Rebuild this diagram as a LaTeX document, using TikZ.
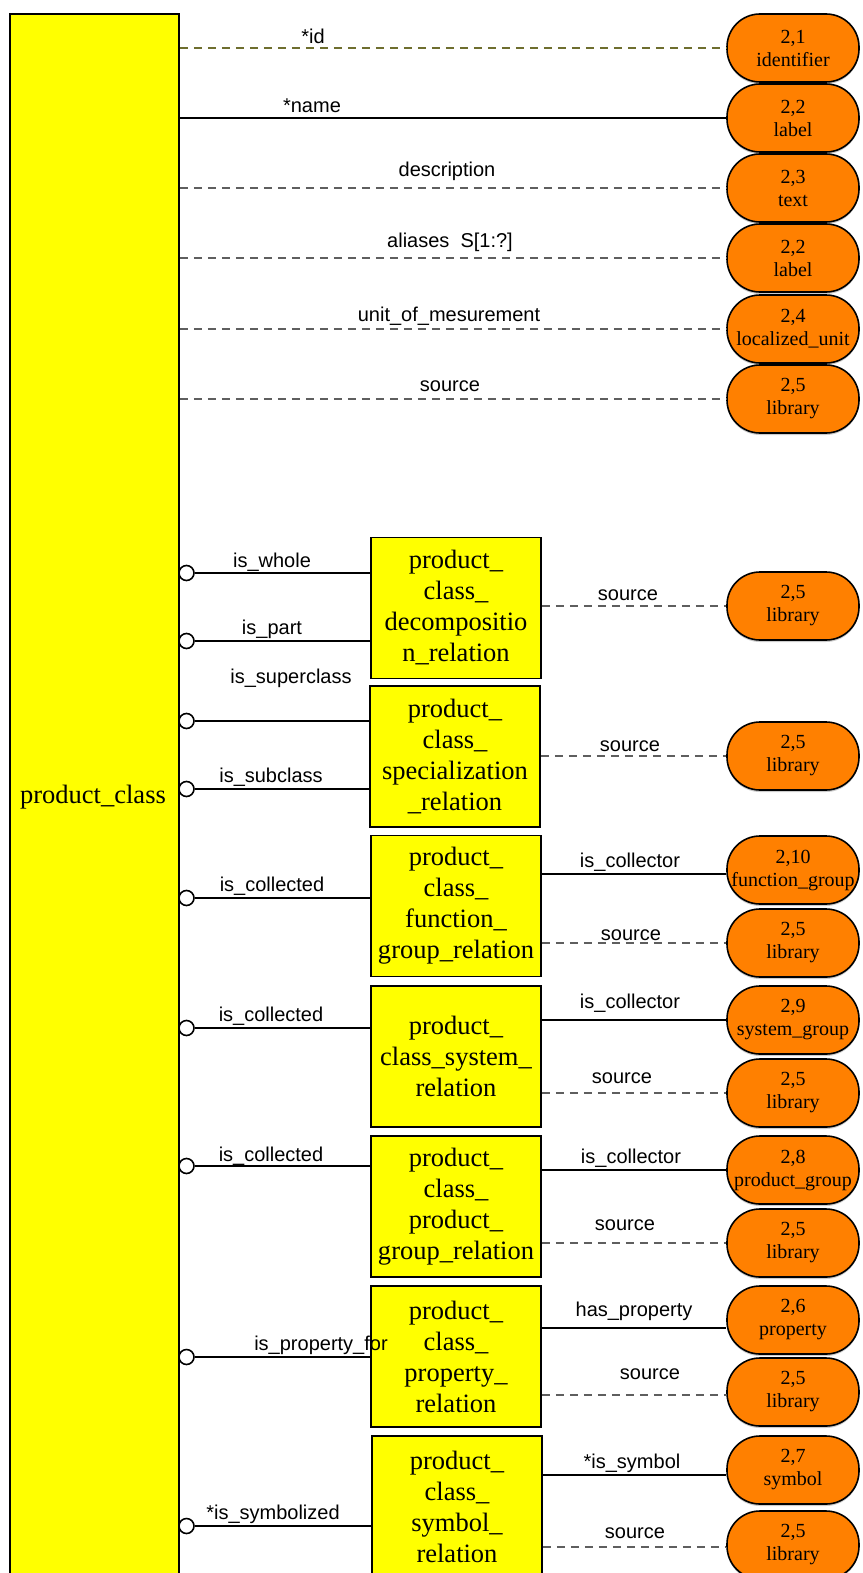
\documentclass[tikz,border=0pt]{standalone}
\usepackage{fontspec}
\setmainfont{Liberation Serif}
\newfontfamily\arialfont{Liberation Sans}
\usetikzlibrary{shadows}

\definecolor{entyellow}{HTML}{FFFF00}
\definecolor{pillorange}{HTML}{FF8000}
\definecolor{dashgray}{HTML}{5E5E5E}
\definecolor{dasholive}{HTML}{6E6E2E}

\tikzset{
  entbox/.style={draw=black, line width=1.7pt, fill=entyellow, minimum width=170pt,
    minimum height=141pt, align=center, inner sep=0pt,
    font=\fontsize{26.5}{31}\selectfont},
  pill/.style={draw=black, line width=1.6pt, fill=pillorange, rounded corners=33pt,
    minimum width=132pt, minimum height=68pt, align=center, inner sep=0pt,
    font=\fontsize{20}{23}\selectfont,
    drop shadow={shadow xshift=0pt, shadow yshift=-2pt, fill=black!40, opacity=0.5}},
  lbl/.style={inner sep=0pt, font=\arialfont\fontsize{20}{22}\selectfont},
  circ/.style={circle, draw=black, line width=1.6pt, fill=white, minimum size=15pt, inner sep=0pt},
  sline/.style={draw=black, line width=1.8pt},
  dline/.style={draw=dashgray, line width=1.4pt, dash pattern=on 8pt off 6pt},
  oline/.style={draw=dasholive, line width=1.4pt, dash pattern=on 8pt off 6pt},
}

\begin{document}
\begin{tikzpicture}[x=1pt, y=-1pt]
\useasboundingbox (0,0) rectangle (862,1573);
\clip (0,0) rectangle (862,1573);

% main entity, running off the lower edge
\node[draw=black, line width=1.8pt, fill=entyellow, minimum width=169pt,
  minimum height=1600pt, anchor=north west, inner sep=0pt] (pc) at (9,13) {};
\node[font=\fontsize{26.5}{31}\selectfont, inner sep=0pt] (pclabel) at (93,797) {product\_class};

% attribute types
\node[pill] (a1) at (793,48)  {2,1\\identifier};
\node[pill] (a2) at (793,118) {2,2\\label};
\node[pill] (a3) at (793,188) {2,3\\text};
\node[pill] (a4) at (793,258) {2,2\\label};
\node[pill] (a5) at (793,329) {2,4\\localized\_unit};
\node[pill] (a6) at (793,399) {2,5\\library};

% attributes
\draw[oline] (pc.east |- a1.west) -- (a1.west);
\draw[sline] (pc.east |- a2.west) -- (a2.west);
\draw[dline] (pc.east |- a3.west) -- (a3.west);
\draw[dline] (pc.east |- a4.west) -- (a4.west);
\draw[dline] (pc.east |- a5.west) -- (a5.west);
\draw[dline] (pc.east |- a6.west) -- (a6.west);
\node[lbl] (la1) at (313,36)  {*id};
\node[lbl] (la2) at (312,106) {*name};
\node[lbl] (la3) at (447,171) {description};
\node[lbl] (la4) at (450,242) {aliases\ \ S[1:?]};
\node[lbl] (la5) at (449,316) {unit\_of\_mesurement};
\node[lbl] (la6) at (450,386) {source};

% relation entities
\node[entbox] (r1) at (456,608)    {product\_\\class\_\\decompositio\\n\_relation};
\node[entbox] (r2) at (455,756.5)  {product\_\\class\_\\specialization\\\_relation};
\node[entbox] (r3) at (456,906)    {product\_\\class\_\\function\_\\group\_relation};
\node[entbox] (r4) at (456,1056.5) {product\_\\class\_system\_\\relation};
\node[entbox] (r5) at (456,1206.5) {product\_\\class\_\\product\_\\group\_relation};
\node[entbox] (r6) at (456,1356.5) {product\_\\class\_\\property\_\\relation};
\node[entbox] (r7) at (457,1506.5) {product\_\\class\_\\symbol\_\\relation};

% optional ends on product_class
\node[circ] (c1) at (186.5,573)  {};
\node[circ] (c2) at (186.5,641)  {};
\node[circ] (c3) at (186.5,721)  {};
\node[circ] (c4) at (186.5,789)  {};
\node[circ] (c5) at (186.5,898)  {};
\node[circ] (c6) at (186.5,1028) {};
\node[circ] (c7) at (186.5,1166) {};
\node[circ] (c8) at (186.5,1357) {};
\node[circ] (c9) at (186.5,1526) {};

\draw[sline] (c1.east) -- (r1.west |- c1.east);
\draw[sline] (c2.east) -- (r1.west |- c2.east);
\draw[sline] (c3.east) -- (r2.west |- c3.east);
\draw[sline] (c4.east) -- (r2.west |- c4.east);
\draw[sline] (c5.east) -- (r3.west |- c5.east);
\draw[sline] (c6.east) -- (r4.west |- c6.east);
\draw[sline] (c7.east) -- (r5.west |- c7.east);
\draw[sline] (c8.east) -- (r6.west |- c8.east);
\draw[sline] (c9.east) -- (r7.west |- c9.east);

\node[lbl] (lc1) at (272,562)  {is\_whole};
\node[lbl] (lc2) at (272,629)  {is\_part};
\node[lbl] (lc3) at (291,678)  {is\_superclass};
\node[lbl] (lc4) at (271,777)  {is\_subclass};
\node[lbl] (lc5) at (272,886)  {is\_collected};
\node[lbl] (lc6) at (271,1016) {is\_collected};
\node[lbl] (lc7) at (271,1156) {is\_collected};
\node[lbl] (lc8) at (321,1345) {is\_property\_for};
\node[lbl] (lc9) at (273,1514) {*is\_symbolized};

% referenced types of the relations
\node[pill] (b1)  at (793,606)  {2,5\\library};
\node[pill] (b2)  at (793,756)  {2,5\\library};
\node[pill] (b3)  at (793,870)  {2,10\\function\_group};
\node[pill] (b4)  at (793,943)  {2,5\\library};
\node[pill] (b5)  at (793,1020) {2,9\\system\_group};
\node[pill] (b6)  at (793,1093) {2,5\\library};
\node[pill] (b7)  at (793,1170) {2,8\\product\_group};
\node[pill] (b8)  at (793,1243) {2,5\\library};
\node[pill] (b9)  at (793,1320) {2,6\\property};
\node[pill] (b10) at (793,1392) {2,5\\library};
\node[pill] (b11) at (793,1470) {2,7\\symbol};
\node[pill] (b12) at (793,1545) {2,5\\library};

\draw[dline] (r1.east |- b1.west) -- (b1.west);
\draw[dline] (r2.east |- b2.west) -- (b2.west);
\draw[sline] (r3.east |- 0,874) -- (b3.west |- 0,874);
\draw[dline] (r3.east |- b4.west) -- (b4.west);
\draw[sline] (r4.east |- b5.west) -- (b5.west);
\draw[dline] (r4.east |- b6.west) -- (b6.west);
\draw[sline] (r5.east |- b7.west) -- (b7.west);
\draw[dline] (r5.east |- b8.west) -- (b8.west);
\draw[sline] (r6.east |- 0,1328) -- (b9.west |- 0,1328);
\draw[dline] (r6.east |- 0,1395) -- (b10.west |- 0,1395);
\draw[sline] (r7.east |- 0,1475) -- (b11.west |- 0,1475);
\draw[dline] (r7.east |- 0,1547) -- (b12.west |- 0,1547);

\node[lbl] (lb1)  at (628,595)  {source};
\node[lbl] (lb2)  at (630,746)  {source};
\node[lbl] (lb3)  at (630,862)  {is\_collector};
\node[lbl] (lb4)  at (631,935)  {source};
\node[lbl] (lb5)  at (630,1003) {is\_collector};
\node[lbl] (lb6)  at (622,1078) {source};
\node[lbl] (lb7)  at (631,1158) {is\_collector};
\node[lbl] (lb8)  at (625,1225) {source};
\node[lbl] (lb9)  at (634,1311) {has\_property};
\node[lbl] (lb10) at (650,1374) {source};
\node[lbl] (lb11) at (632,1463) {*is\_symbol};
\node[lbl] (lb12) at (635,1533) {source};
\end{tikzpicture}
\end{document}
